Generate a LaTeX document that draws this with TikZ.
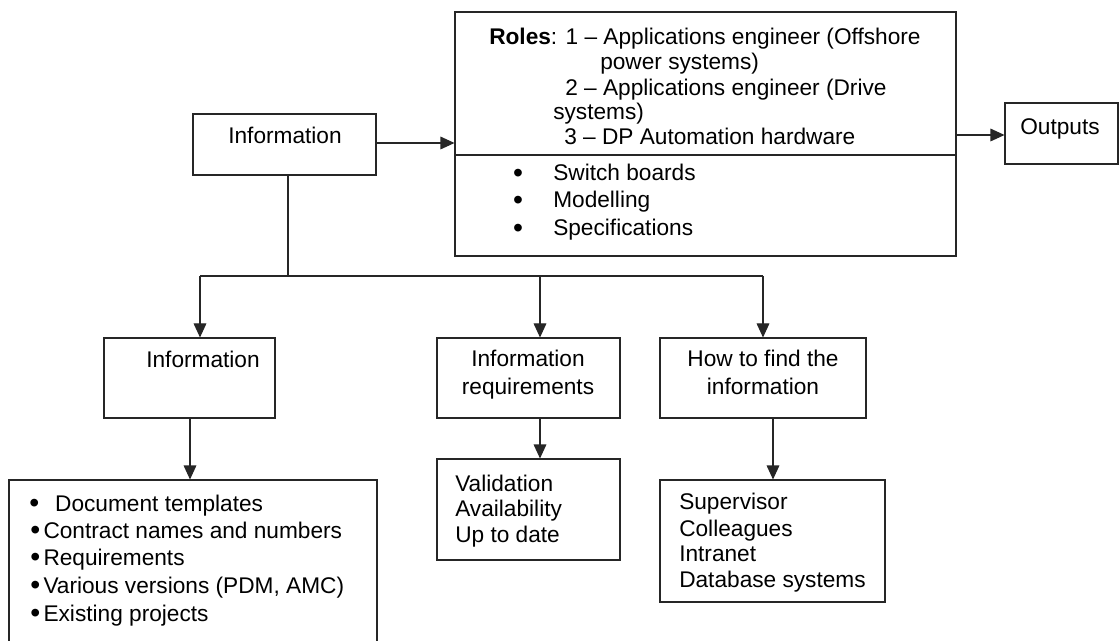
\documentclass[tikz,border=0pt]{standalone}
\usepackage{fontspec}
\setmainfont{Liberation Sans}
\usetikzlibrary{fit,arrows.meta}
\newcommand{\bigdot}{\raisebox{-0.9pt}{\scalebox{1.25}{\textbullet}}}
\begin{document}
\begin{tikzpicture}[x=0.75pt,y=-0.75pt,
  box/.style={draw=black!85,line width=0.8pt,inner sep=0pt},
  txt/.style={inner sep=0pt,text height=12pt,text depth=0pt,font=\fontsize{17}{20}\selectfont},
  conn/.style={draw=black!85,line width=0.8pt},
  arr/.style={conn,-{Triangle[length=10.5pt,width=9.5pt]}}]
\clip (0,0) rectangle (1120,641);
\fill[white] (0,0) rectangle (1120,641);

% boxes
\node[box,fit={(193,114) (376,175)}] (info) {};
\node[box,fit={(455,12) (956,256)}] (roles) {};
\node[box,fit={(1005,103) (1118,164)}] (outputs) {};
\node[box,fit={(104,338) (275,418)}] (info2) {};
\node[box,fit={(437,338) (620,418)}] (ireq) {};
\node[box,fit={(660,338) (866,418)}] (howto) {};
\node[box,fit={(9,480) (377,660)}] (docs) {};
\node[box,fit={(437,459) (620,560)}] (valid) {};
\node[box,fit={(660,480) (885,602)}] (sources) {};
\coordinate (split) at (455,155);
\draw[conn] (split) -- (split -| roles.east);

% texts of the top row
\node[txt] (tinfo) at (285,136) {Information};
\node[txt,anchor=west] (r1) at (489,37) {\textbf{Roles}: 1 – Applications engineer (Offshore};
\node[txt,anchor=west] (r2) at (600,62) {power systems)};
\node[txt,anchor=west] (r3) at (565,88) {2 – Applications engineer (Drive};
\node[txt,anchor=west] (r4) at (553,112) {systems)};
\node[txt,anchor=west] (r5) at (564,137) {3 – DP Automation hardware};
\node[txt] (b1) at (518,173) {\bigdot};
\node[txt] (b2) at (518,200) {\bigdot};
\node[txt] (b3) at (518,228) {\bigdot};
\node[txt,anchor=west] (s1) at (553,173) {Switch boards};
\node[txt,anchor=west] (s2) at (553,200) {Modelling};
\node[txt,anchor=west] (s3) at (553,228) {Specifications};
\node[txt,anchor=west] (tout) at (1020,127) {Outputs};

% texts of the middle row
\node[txt] (tinfo2) at (203,360) {Information};
\node[txt] (q1) at (528,359) {Information};
\node[txt] (q2) at (528,386) {requirements};
\node[txt] (h1) at (763,359) {How to find the};
\node[txt] (h2) at (763,386) {information};

% texts of the bottom row
\node[txt,anchor=west] (d1) at (29,503) {\bigdot\hspace{12pt}Document templates};
\node[txt,anchor=west] (d2) at (30,530) {\bigdot\hspace{2.5pt}Contract names and numbers};
\node[txt,anchor=west] (d3) at (30,557) {\bigdot\hspace{2.5pt}Requirements};
\node[txt,anchor=west] (d4) at (30,585) {\bigdot\hspace{2.5pt}Various versions (PDM, AMC)};
\node[txt,anchor=west] (d5) at (30,613) {\bigdot\hspace{2.5pt}Existing projects};
\node[txt,anchor=west] (v1) at (455,483) {Validation};
\node[txt,anchor=west] (v2) at (455,508) {Availability};
\node[txt,anchor=west] (v3) at (455,534) {Up to date};
\node[txt,anchor=west] (p1) at (679,501) {Supervisor};
\node[txt,anchor=west] (p2) at (679,528) {Colleagues};
\node[txt,anchor=west] (p3) at (679,553) {Intranet};
\node[txt,anchor=west] (p4) at (679,579) {Database systems};

% connectors
\coordinate (inA) at (376,143);
\coordinate (outA) at (956,135);
\draw[arr] (inA) -- (inA -| roles.west);
\draw[arr] (outA) -- (outA -| outputs.west);

\coordinate (j) at (288,276);
\coordinate (jl) at (200,276);
\coordinate (jm) at (540,276);
\coordinate (jr) at (763,276);
\draw[conn] (info.south -| j) -- (j);
\draw[conn] (jl) -- (jr);
\draw[arr] (jl) -- (jl |- info2.north);
\draw[arr] (jm) -- (jm |- ireq.north);
\draw[arr] (jr) -- (jr |- howto.north);

\coordinate (kl) at (190,418);
\coordinate (km) at (540,418);
\coordinate (kr) at (773,418);
\draw[arr] (kl) -- (kl |- docs.north);
\draw[arr] (km) -- (km |- valid.north);
\draw[arr] (kr) -- (kr |- sources.north);
\end{tikzpicture}
\end{document}
